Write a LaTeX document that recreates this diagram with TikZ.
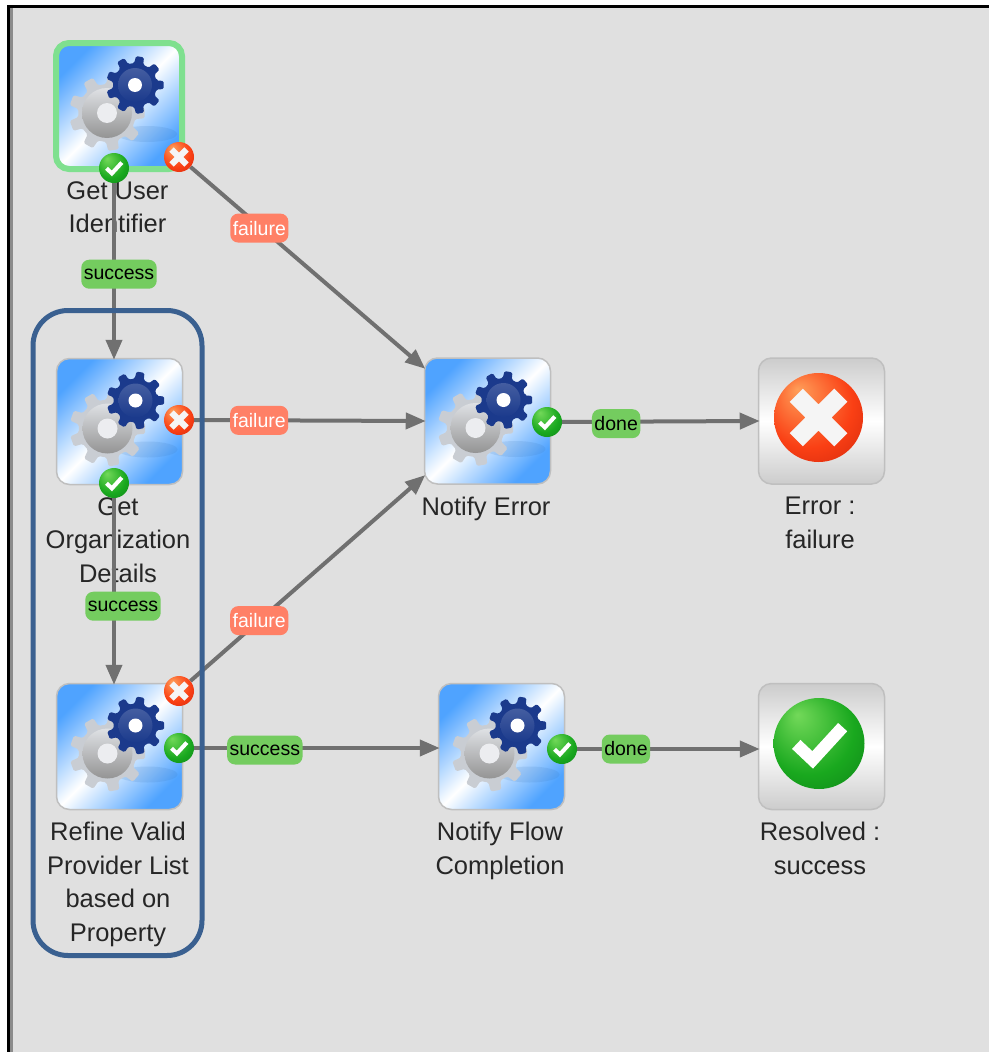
\documentclass[tikz,border=0pt]{standalone}
\usepackage{fontspec}
\setmainfont{Liberation Sans}
\usetikzlibrary{positioning,arrows.meta}
\pgfdeclarelayer{front}
\pgfsetlayers{main,front}
\definecolor{panelgray}{HTML}{E0E0E0}
\definecolor{wireline}{HTML}{707070}
\definecolor{pillgreen}{HTML}{74CC5F}
\definecolor{pillred}{HTML}{FF8066}
\definecolor{groupblue}{HTML}{3A6090}
\definecolor{tileblue}{HTML}{4FA3FF}
\definecolor{cogblue}{HTML}{1B3A8C}
\definecolor{coggray}{HTML}{C9CDD3}
\definecolor{selectgreen}{HTML}{7FE08F}
\pgfdeclareradialshading{okball}{\pgfpoint{-12bp}{16bp}}{rgb(0bp)=(.45,.85,.35);rgb(25bp)=(.10,.66,.12);rgb(50bp)=(.03,.44,.08)}
\pgfdeclareradialshading{failball}{\pgfpoint{-12bp}{16bp}}{rgb(0bp)=(1,.62,.35);rgb(25bp)=(.98,.25,.08);rgb(50bp)=(.74,.10,.03)}
\tikzset{
  tile/.style={draw=black!25,line width=1.5pt,minimum size=126pt,inner sep=0pt,rounded corners=13pt,
    shade,top color=tileblue,bottom color=tileblue,middle color=white,shading angle=45},
  stoptile/.style={tile,top color=black!20,bottom color=black!20,middle color=white},
  selected/.style={draw=selectgreen,line width=6pt},
  tilelabel/.style={inner sep=0pt,align=center,xshift=-1.5pt,font=\fontsize{25.5}{33.5}\selectfont,text=black!85},
  wire/.style={draw=wireline,line width=4pt,shorten >=-2pt,-{Triangle[length=20pt,width=16pt]}},
  pill/.style={rounded corners=8pt,inner xsep=2.5pt,inner ysep=0pt,minimum height=29pt,font=\fontsize{19.5}{20}\selectfont},
  okpill/.style={pill,fill=pillgreen,text=black},
  failpill/.style={pill,fill=pillred,text=white},
  groupbox/.style={draw=groupblue,line width=5pt,rounded corners=35pt,minimum width=169pt,minimum height=645pt}
}
\newcommand{\cogwheel}[5]{\pgfmathsetmacro{\cogstep}{360/#2}
  \fill[#5,rounded corners=1.5pt,shift={(#1)}] (-.3*\cogstep:#4) \foreach \k in {1,...,#2} {
    -- (\k*\cogstep-1.0*\cogstep-.3*\cogstep:#4) -- (\k*\cogstep-1.0*\cogstep-.2*\cogstep:#3)
    -- (\k*\cogstep-1.0*\cogstep+.2*\cogstep:#3) -- (\k*\cogstep-1.0*\cogstep+.3*\cogstep:#4)} -- cycle;}
\newcommand{\cogpair}[1]{\begin{scope}[shift={(#1.center)}]
  \fill[tileblue!70!black,opacity=.14] (28,28) ellipse (30 and 8);
  \cogwheel{-12,7}{9}{38}{29}{coggray}
  \shade[top color=coggray!60!white,bottom color=black!42] (-12,7) circle (25);
  \fill[coggray!35!white] (-12,7) circle (10);
  \cogwheel{16,-21}{9}{29}{22}{cogblue}
  \shade[top color=cogblue!82!white,bottom color=cogblue] (16,-21) circle (17);
  \fill[white] (16,-21) circle (7);
\end{scope}}
\newcommand{\flowtile}[5][]{\node[tile,#1] at (#2) (#3) {};
  \cogpair{#3}
  \node[tilelabel,below=#5pt of #3] (#3-label) {#4};}
\newcommand{\stopstep}[3]{\node[stoptile] at (#1) (#2) {};
  \node[tilelabel,below=12pt of #2] (#2-label) {#3};}
\newcommand{\okmark}[3]{\begin{pgfonlayer}{front}
  \node[circle,inner sep=0pt,minimum size=2*#3pt,shading=okball] at (#1) (#2) {};
  \draw[white,line width=#3*.27pt,shift={(#2.center)}] (-#3*.5,#3*.02) -- (-#3*.14,#3*.36) -- (#3*.52,-#3*.36);
\end{pgfonlayer}}
\newcommand{\failmark}[3]{\begin{pgfonlayer}{front}
  \node[circle,inner sep=0pt,minimum size=2*#3pt,shading=failball] at (#1) (#2) {};
  \draw[black!4,line width=#3*.42pt,shift={(#2.center)}]
    (-#3*.5,-#3*.5) -- (#3*.5,#3*.5) (-#3*.5,#3*.5) -- (#3*.5,-#3*.5);
\end{pgfonlayer}}
\begin{document}
\begin{tikzpicture}[x=1pt,y=-1pt]
  \useasboundingbox (0,0) rectangle (989,1052);
  \fill[white] (0,0) rectangle (989,1052);
  \fill[panelgray] (10,7) rectangle (989,1052);
  \fill[black!45] (10,7) rectangle (13,1052);
  \draw[black,line width=3pt] (8.5,1052) -- (8.5,6.5) -- (989,6.5);

  \flowtile[selected]{119,106}{getUser}{Get User\\Identifier}{9}
  \flowtile{119.5,421.5}{getOrg}{Get\\Organization\\Details}{12}
  \flowtile{119.5,746.5}{refineList}{Refine Valid\\Provider List\\based on\\Property}{12}
  \flowtile{487.5,421}{notifyError}{Notify Error}{12}
  \flowtile{501.5,746.5}{notifyFlow}{Notify Flow\\Completion}{12}
  \stopstep{821.5,421}{errorEnd}{Error :\\failure}
  \stopstep{821.5,746.5}{resolvedEnd}{Resolved :\\success}

  \failmark{818.5,417.5}{errorBall}{44.5}
  \okmark{819,743.5}{resolvedBall}{45.5}
  \okmark{114,168}{getUserOk}{15}
  \failmark{179,157}{getUserFail}{15}
  \okmark{114,483}{getOrgOk}{15}
  \failmark{179,420}{getOrgFail}{15}
  \failmark{179,691}{refineFail}{15}
  \okmark{179,748}{refineOk}{15}
  \okmark{547,422}{notifyErrorOk}{15}
  \okmark{562,749}{notifyFlowOk}{15}

  \draw[wire] (getUserOk) -- node[okpill,pos=.51,xshift=5pt,yshift=-2pt] (pillA) {success} (getUserOk |- getOrg.north);
  \draw[wire] (getOrgOk) -- node[okpill,pos=.58,xshift=9pt,yshift=-1pt] (pillB) {success} (getOrgOk |- refineList.north);
  \draw[wire] (getUserFail) -- node[failpill,pos=.295,yshift=-2pt] (pillC) {failure} (notifyError.140);
  \draw[wire] (getOrgFail) -- node[failpill,pos=.283] (pillD) {failure} (notifyError.west);
  \draw[wire] (refineFail) -- node[failpill,pos=.295] (pillE) {failure} (notifyError.221);
  \draw[wire] (refineOk) -- node[okpill,pos=.29,yshift=-2pt] (pillF) {success} (refineOk -| notifyFlow.west);
  \draw[wire] (notifyErrorOk) -- node[okpill,pos=.276,yshift=-2pt] (pillG) {done} (errorEnd.west);
  \draw[wire] (notifyFlowOk) -- node[okpill,pos=.27] (pillH) {done} (notifyFlowOk -| resolvedEnd.west);

  \begin{pgfonlayer}{front}
    \node[groupbox] at (117.5,633) (validGroup) {};
  \end{pgfonlayer}
\end{tikzpicture}
\end{document}
